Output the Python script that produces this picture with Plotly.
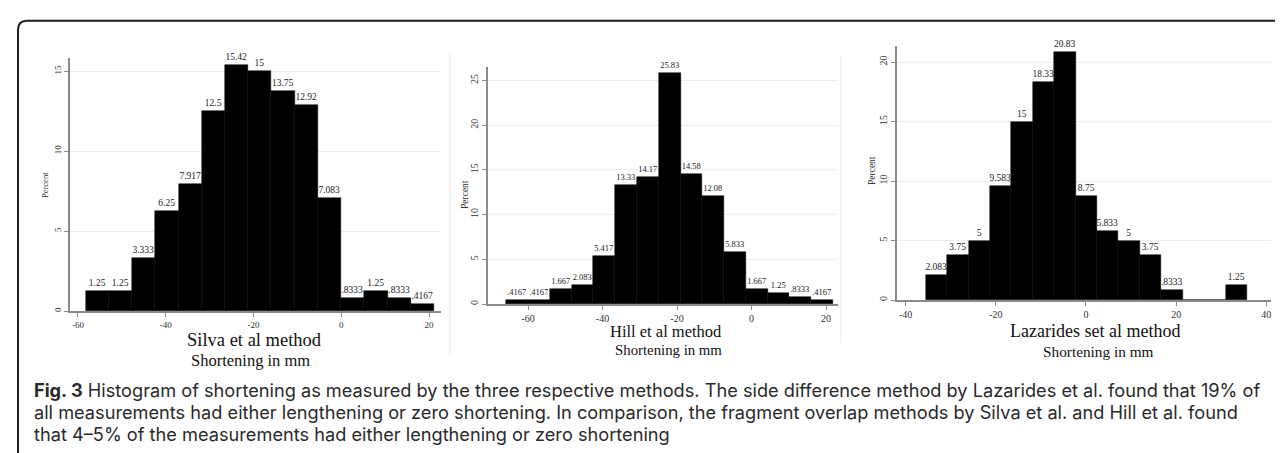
import plotly.graph_objects as go

W, H = 1283, 453

# ---------------- data ----------------
silva_pct = [1.25, 1.25, 3.333, 6.25, 7.917, 12.5, 15.42, 15, 13.75, 12.92, 7.083, 0.8333, 1.25, 0.8333, 0.4167]
silva_lbl = ["1.25", "1.25", "3.333", "6.25", "7.917", "12.5", "15.42", "15", "13.75", "12.92", "7.083", ".8333", "1.25", ".8333", ".4167"]
silva_bin_start = -58.25
silva_bin_width = 5.293

hill_pct = [0.4167, 0.4167, 1.667, 2.083, 5.417, 13.33, 14.17, 25.83, 14.58, 12.08, 5.833, 1.667, 1.25, 0.8333, 0.4167]
hill_lbl = [".4167", ".4167", "1.667", "2.083", "5.417", "13.33", "14.17", "25.83", "14.58", "12.08", "5.833", "1.667", "1.25", ".8333", ".4167"]
hill_bin_start = -65.82
hill_bin_width = 5.847

laz_pct = [2.083, 3.75, 5, 9.583, 15, 18.33, 20.83, 8.75, 5.833, 5, 3.75, 0.8333, 0, 0, 1.25]
laz_lbl = ["2.083", "3.75", "5", "9.583", "15", "18.33", "20.83", "8.75", "5.833", "5", "3.75", ".8333", "", "", "1.25"]
laz_bin_start = -35.56
laz_bin_width = 4.751

silva_xticks = [-60, -40, -20, 0, 20]
hill_xticks = [-60, -40, -20, 0, 20]
laz_xticks = [-40, -20, 0, 20, 40]
silva_yticks = [0, 5, 10, 15]
hill_yticks = [0, 5, 10, 15, 20, 25]
laz_yticks = [0, 5, 10, 15, 20]

titles = ["Silva et al method", "Hill et al method", "Lazarides set al method"]
xlabel = "Shortening in mm"
ylabel = "Percent"
caption_lines = [
    "<b>Fig. 3</b> Histogram of shortening as measured by the three respective methods. "
    "The side difference method by Lazarides et al. found that 19% of",
    "all measurements had either lengthening or zero shortening. In comparison, the fragment "
    "overlap methods by Silva et al. and Hill et al. found",
    "that 4\u20135% of the measurements had either lengthening or zero shortening",
]

# ---------------- layout geometry (pixels) ----------------
panels = [
    dict(pct=silva_pct, lbl=silva_lbl, start=silva_bin_start, width=silva_bin_width,
         xt=silva_xticks, yt=silva_yticks, px=(62, 433), py=(50, 303),
         xr=[-61.82, 22.73], yr=[0, 15.83], tick=9, lab=9.5,
         title_xy=(246, 332), xl_xy=(243, 352), yl_xy=(37, 177), tsize=18.5, xlsize=16.5),
    dict(pct=hill_pct, lbl=hill_lbl, start=hill_bin_start, width=hill_bin_width,
         xt=hill_xticks, yt=hill_yticks, px=(480, 830), py=(59, 296),
         xr=[-70.74, 23.22], yr=[0, 26.5], tick=10, lab=8.5,
         title_xy=(658, 323), xl_xy=(660, 342), yl_xy=(457, 187), tsize=16.5, xlsize=14.8),
    dict(pct=laz_pct, lbl=laz_lbl, start=laz_bin_start, width=laz_bin_width,
         xt=laz_xticks, yt=laz_yticks, px=(889, 1263), py=(38, 292),
         xr=[-41.92, 41.04], yr=[0, 21.35], tick=10, lab=9.5,
         title_xy=(1087, 323), xl_xy=(1090, 343), yl_xy=(864, 163), tsize=18, xlsize=15.3),
]

SERIF = "Liberation Serif, Times New Roman, serif"
AXC = "#8a8a8a"
fig = go.Figure()
annotations = []
for i, p in enumerate(panels, start=1):
    sfx = "" if i == 1 else str(i)
    centers = [p["start"] + p["width"] * (k + 0.5) for k in range(len(p["pct"]))]
    fig.add_trace(go.Bar(
        x=centers, y=p["pct"], width=p["width"],
        marker=dict(color="black", line=dict(color="black", width=0.5)),
        text=p["lbl"], textposition="outside", constraintext="none", cliponaxis=False,
        textfont=dict(family=SERIF, size=p["lab"], color="#1a1a1a"),
        xaxis="x" + sfx, yaxis="y" + sfx, hoverinfo="skip", showlegend=False,
    ))
    x0, x1 = p["px"]
    y0, y1 = p["py"]
    fig.layout["xaxis" + sfx] = dict(
        domain=[x0 / W, x1 / W], range=p["xr"], anchor="y" + sfx,
        tickvals=p["xt"], ticktext=[str(v) for v in p["xt"]],
        ticks="outside", ticklen=4, tickcolor=AXC, tickwidth=1,
        showline=True, linecolor=AXC, linewidth=1.5,
        showgrid=False, zeroline=False, fixedrange=True,
        tickfont=dict(family=SERIF, size=p["tick"], color="#333"),
    )
    fig.layout["yaxis" + sfx] = dict(
        domain=[1 - y1 / H, 1 - y0 / H], range=p["yr"], anchor="x" + sfx,
        tickvals=p["yt"], ticktext=[str(v) for v in p["yt"]], tickangle=-90,
        ticks="outside", ticklen=4, tickcolor=AXC, tickwidth=1,
        showline=True, linecolor=AXC, linewidth=1.5,
        showgrid=True, gridcolor="#ececec", gridwidth=1, zeroline=False, fixedrange=True,
        tickfont=dict(family=SERIF, size=p["tick"], color="#333"),
    )
    tx, ty = p["title_xy"]
    annotations.append(dict(text=titles[i - 1], x=tx / W, y=1 - ty / H, xref="paper", yref="paper",
                            xanchor="center", yanchor="middle", showarrow=False,
                            font=dict(family=SERIF, size=p["tsize"], color="#111")))
    lx, ly = p["xl_xy"]
    annotations.append(dict(text=xlabel, x=lx / W, y=1 - ly / H, xref="paper", yref="paper",
                            xanchor="center", yanchor="middle", showarrow=False,
                            font=dict(family=SERIF, size=p["xlsize"], color="#111")))
    yx, yy = p["yl_xy"]
    annotations.append(dict(text=ylabel, x=yx / W, y=1 - yy / H, xref="paper", yref="paper",
                            xanchor="center", yanchor="middle", showarrow=False, textangle=-90,
                            font=dict(family=SERIF, size=p["tick"] - 0.5, color="#333")))

for line, cy in zip(caption_lines, [382, 404.2, 426.4]):
    annotations.append(dict(text=line, x=24 / W, y=1 - cy / H, xref="paper", yref="paper",
                            xanchor="left", yanchor="middle", align="left", showarrow=False,
                            font=dict(family="Inter, Open Sans, sans-serif", size=18.2, color="#2a2a2a")))

r = 9
bx, by = 10, 12.7
shapes = [
    dict(type="path", xref="paper", yref="paper",
         path=(f"M {bx / W},0 L {bx / W},{1 - (by + r) / H} "
               f"Q {bx / W},{1 - by / H} {(bx + r) / W},{1 - by / H} L 1,{1 - by / H}"),
         line=dict(color="#1c1c1c", width=2)),
]
for sx, sy0, sy1 in [(442, 45, 347), (833, 48, 335), (1276, 28, 350)]:
    shapes.append(dict(type="line", xref="paper", yref="paper", x0=sx / W, x1=sx / W,
                       y0=1 - sy0 / H, y1=1 - sy1 / H, line=dict(color="#f1f1f1", width=1.5)))

fig.update_layout(
    width=W, height=H, margin=dict(l=0, r=0, t=0, b=0),
    paper_bgcolor="white", plot_bgcolor="white",
    bargap=0, showlegend=False, annotations=annotations, shapes=shapes,
)

fig.write_html("out.html")
